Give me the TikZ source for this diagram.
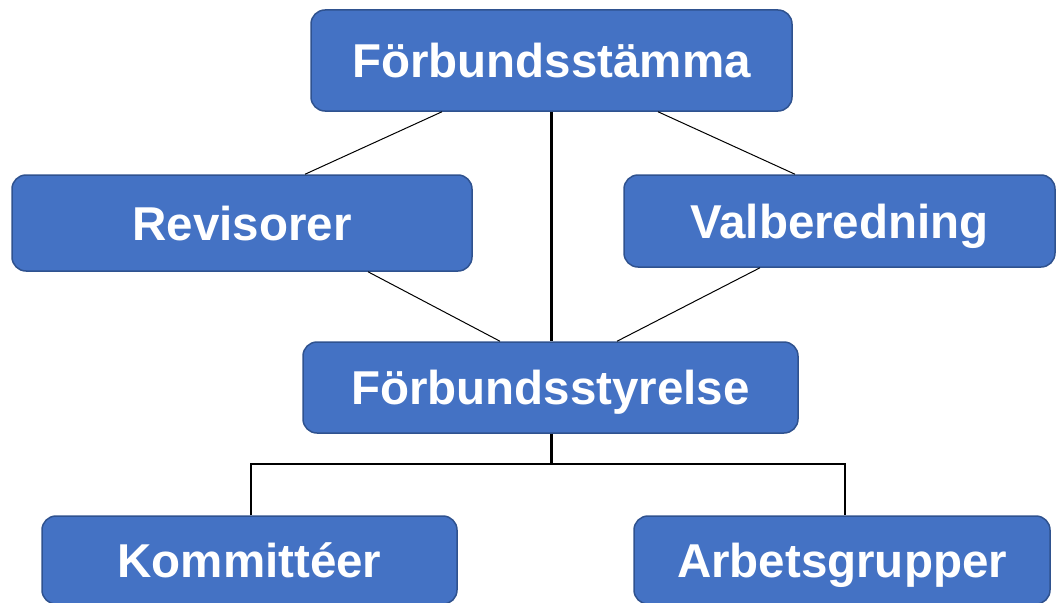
\documentclass[tikz,border=0pt]{standalone}
\usepackage{fontspec}
\setmainfont{Liberation Sans}
\usetikzlibrary{positioning}

\definecolor{unitfill}{HTML}{4472C4}
\definecolor{unitedge}{HTML}{2F528F}

\tikzset{
  unit/.style={rectangle, rounded corners=14pt, fill=unitfill, draw=unitedge, line width=1.5pt,
    text=white, font=\fontsize{47.5}{52}\selectfont\bfseries, inner sep=0pt,
    text height=34pt, text depth=0pt},
  thinlink/.style={line width=1pt, color=black},
  thicklink/.style={line width=2.2pt, color=black}
}

\begin{document}
\begin{tikzpicture}
				\useasboundingbox (0pt,0pt) rectangle (1056pt,-602pt);
				\node (stamma) [unit, minimum width=481pt, minimum height=101pt] at (551.5pt, -60.5pt) {Förbundsstämma};
				\node (revisorer) [unit, minimum width=460pt, minimum height=96pt] at (242pt, -223pt) {Revisorer};
				\node (valberedning) [unit, minimum width=431pt, minimum height=92pt] at (839.5pt, -221pt) {Valberedning};
				\node (styrelse) [unit, minimum width=495pt, minimum height=91pt] at (550.5pt, -387.5pt) {Förbundsstyrelse};
				\node (kommitteer) [unit, minimum width=415pt, minimum height=88pt] at (249.5pt, -560pt) {Kommittéer};
				\node (arbetsgrupper) [unit, minimum width=416pt, minimum height=88pt] at (842pt, -560pt) {Arbetsgrupper};
				\draw [thinlink] ([xshift=-109.5pt]stamma.south) to ([xshift=63pt]revisorer.north);
				\draw [thinlink] ([xshift=106.5pt]stamma.south) to ([xshift=-44.5pt]valberedning.north);
				\draw [thinlink] ([xshift=126pt]revisorer.south) to ([xshift=-50.5pt]styrelse.north);
				\draw [thinlink] ([xshift=-79.5pt]valberedning.south) to ([xshift=66.5pt]styrelse.north);
				\draw [thicklink] (stamma.south) to (stamma.south |- styrelse.north);
				\draw [thicklink] (stamma.south |- styrelse.south) -- ++(0pt,-30pt) coordinate (bar);
				\draw [thicklink] ([xshift=1.5pt]kommitteer.north) |- (bar) -| ([xshift=3pt]arbetsgrupper.north);
\end{tikzpicture}
\end{document}
